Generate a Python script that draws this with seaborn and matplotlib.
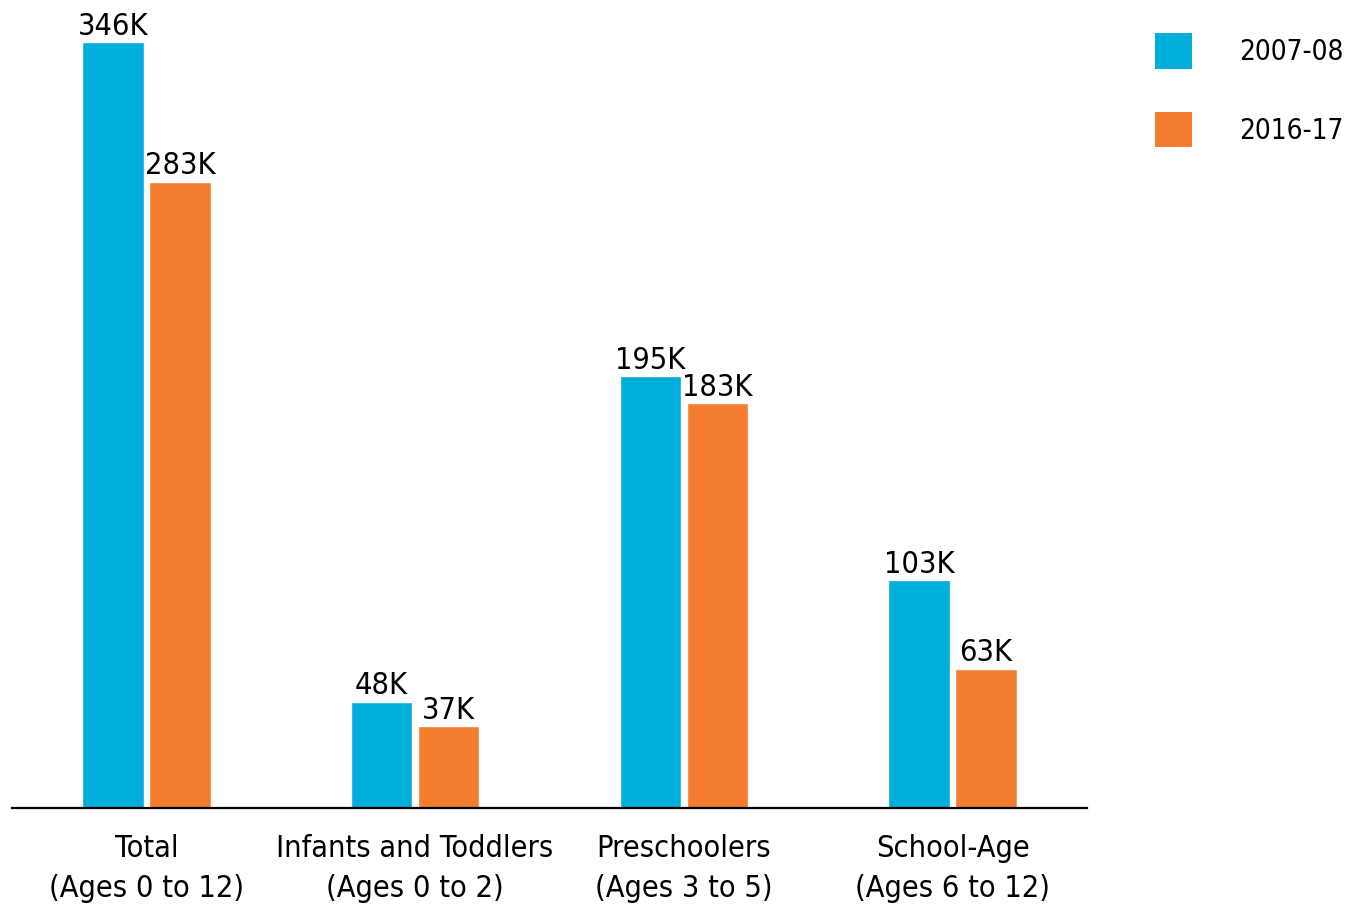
import matplotlib
matplotlib.use("Agg")
import matplotlib.pyplot as plt
from matplotlib.patches import Patch
import seaborn as sns
import pandas as pd

# data (thousands of children)
categories = ["Total\n(Ages 0 to 12)", "Infants and Toddlers\n(Ages 0 to 2)",
              "Preschoolers\n(Ages 3 to 5)", "School-Age\n(Ages 6 to 12)"]
years = ["2007-08", "2016-17"]
vals_0708 = [346, 48, 195, 103]
vals_1617 = [283, 37, 183, 63]
colors = ["#00AEDB", "#F47D30"]

df = pd.DataFrame({
    "group": categories * 2,
    "year": [years[0]] * 4 + [years[1]] * 4,
    "value": vals_0708 + vals_1617,
})

sns.set_theme(style="white")
plt.rcParams["font.family"] = ["DejaVu Sans"]
plt.rcParams["font.stretch"] = "condensed"
plt.rcParams["text.color"] = "black"
plt.rcParams["xtick.color"] = "black"

fig = plt.figure(figsize=(13.46, 9.08), dpi=100)
ax = fig.add_axes([12 / 1346, 100 / 908, 1075 / 1346, 808 / 908])

sns.barplot(data=df, x="group", y="value", hue="year", hue_order=years,
            palette=colors, width=0.498, gap=0.08, saturation=1,
            legend=False, ax=ax)

for cont in ax.containers:
    ax.bar_label(cont, labels=[f"{int(v)}K" for v in cont.datavalues],
                 fontsize=22, padding=1, color="black")

ax.set_ylim(0, 365)
ax.set_xlim(-0.5, 3.5)
ax.set_xlabel("")
ax.set_ylabel("")
ax.set_yticks([])
ax.tick_params(axis="x", length=0, labelsize=22, pad=19)
for lbl in ax.get_xticklabels():
    lbl.set_linespacing(1.45)
for s in ["top", "right", "left"]:
    ax.spines[s].set_visible(False)
ax.spines["bottom"].set_color("black")
ax.spines["bottom"].set_linewidth(1.6)

handles = [Patch(facecolor=c, edgecolor="none", label=y) for c, y in zip(colors, years)]
fig.legend(handles=handles, loc="upper left",
           bbox_to_anchor=(1155 / 1346, 1 - 33 / 908),
           frameon=False, fontsize=20, borderpad=0, borderaxespad=0,
           handlelength=1.33, handleheight=1.6, handletextpad=1.7,
           labelspacing=1.55)

fig.savefig("out.png", dpi=100)
